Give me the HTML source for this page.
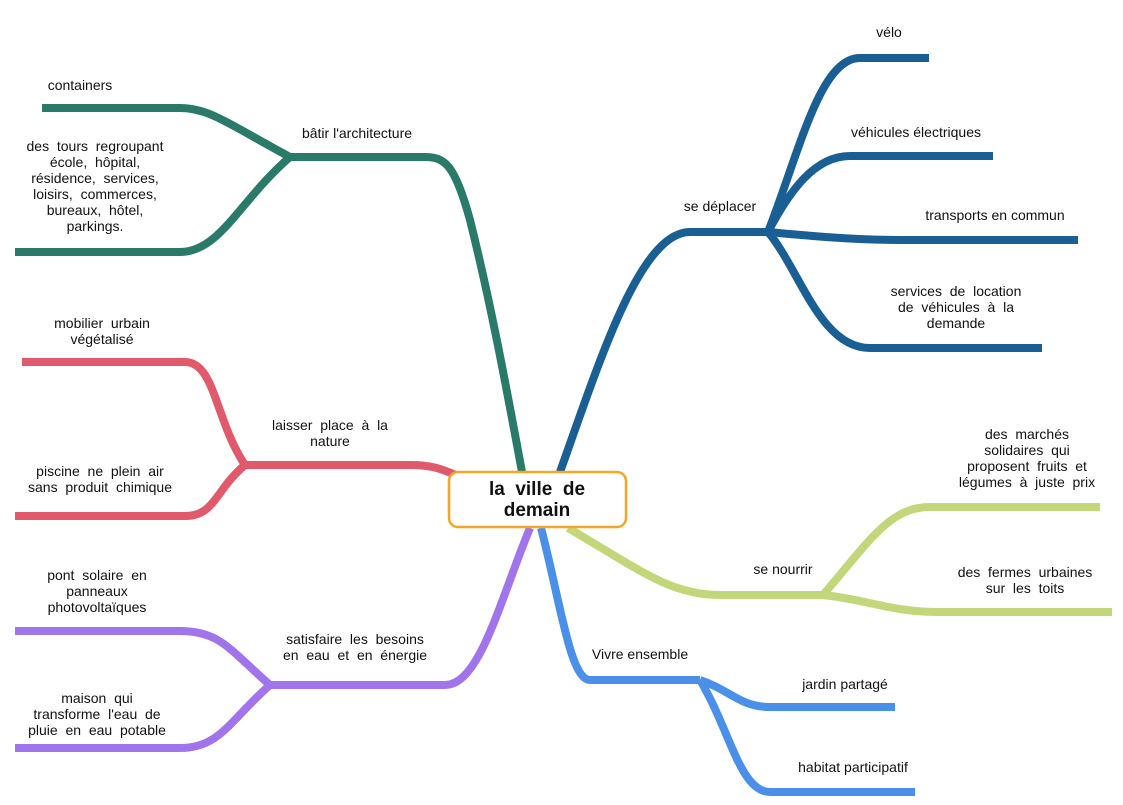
<!DOCTYPE html>
<html><head><meta charset="utf-8"><style>
html,body{margin:0;padding:0;background:#fff;}
svg{display:block;}
text{font-family:"Liberation Sans",sans-serif;font-size:14px;fill:#111;white-space:pre;}
</style></head><body>
<svg width="1123" height="805" viewBox="0 0 1123 805" xmlns="http://www.w3.org/2000/svg" xml:space="preserve">
<g fill="none" stroke-linecap="butt">
<g stroke="#2a7a69" stroke-width="8">
<path d="M522,472 C505,380 490,300 470,220 C455,165 445,157 425,157 L290,157"/>
<path d="M290,157 C230,125 210,108 180,108 L42,108"/>
<path d="M290,157 C240,200 220,252 180,252 L15,252"/>
</g>
<g stroke="#1a5f93" stroke-width="8">
<path d="M560,472 C600,360 640,232 690,232 L768,232"/>
<path d="M768,232 C800,150 820,58 860,58 L929,58"/>
<path d="M768,232 C790,190 815,156 850,156 L993,156"/>
<path d="M768,232 C800,235 850,240 900,240 L1078,240"/>
<path d="M768,232 C800,270 820,348 870,348 L1042,348"/>
</g>
<g stroke="#e05a6b" stroke-width="8">
<path d="M458,476 C440,468 430,465 410,465 L245,465"/>
<path d="M245,465 C215,420 215,362 185,362 L22,362"/>
<path d="M245,465 C215,490 215,516 185,516 L15,516"/>
</g>
<g stroke="#a274ec" stroke-width="8">
<path d="M530,528 C500,600 480,685 445,685 L270,685"/>
<path d="M270,685 C230,650 220,631 180,631 L15,631"/>
<path d="M270,685 C230,720 220,748 180,748 L15,748"/>
</g>
<g stroke="#4a90e8" stroke-width="8">
<path d="M541,528 C560,600 570,680 590,680 L700,680"/>
<path d="M700,680 C730,690 740,707 770,707 L895,707"/>
<path d="M700,680 C730,730 740,792 770,792 L915,792"/>
</g>
<g stroke="#c2d67a" stroke-width="8">
<path d="M568,528 C640,570 670,595 720,595 L823,595"/>
<path d="M823,595 C870,540 890,507 930,507 L1100,507"/>
<path d="M823,595 C870,600 890,612 940,612 L1112,612"/>
</g>
</g>
<rect x="449" y="472" width="177" height="55" rx="9" fill="#fff" stroke="#f5a623" stroke-width="2.5"/>
<text x="537" y="495" text-anchor="middle" style="font-size:19px;font-weight:bold">la  ville  de</text>
<text x="537" y="516" text-anchor="middle" style="font-size:19px;font-weight:bold">demain</text>

<text x="80" y="90" text-anchor="middle">containers</text>
<text x="357" y="138" text-anchor="middle">bâtir l'architecture</text>
<g text-anchor="middle">
<text x="95" y="151">des  tours  regroupant</text>
<text x="95" y="167">école,  hôpital,</text>
<text x="95" y="183">résidence,  services,</text>
<text x="95" y="199">loisirs,  commerces,</text>
<text x="95" y="215">bureaux,  hôtel,</text>
<text x="95" y="231">parkings.</text>
<text x="102" y="328">mobilier  urbain</text>
<text x="102" y="344">végétalisé</text>
<text x="330" y="430">laisser  place  à  la</text>
<text x="330" y="446">nature</text>
<text x="100" y="476">piscine  ne  plein  air</text>
<text x="100" y="492">sans  produit  chimique</text>
<text x="97" y="580">pont  solaire  en</text>
<text x="97" y="596">panneaux</text>
<text x="97" y="612">photovoltaïques</text>
<text x="355" y="644">satisfaire  les  besoins</text>
<text x="355" y="660">en  eau  et  en  énergie</text>
<text x="97" y="703">maison  qui</text>
<text x="97" y="719">transforme  l'eau  de</text>
<text x="97" y="735">pluie  en  eau  potable</text>
<text x="889" y="37">vélo</text>
<text x="916" y="137">véhicules électriques</text>
<text x="720" y="211">se déplacer</text>
<text x="995" y="220">transports en commun</text>
<text x="956" y="296">services  de  location</text>
<text x="956" y="312">de  véhicules  à  la</text>
<text x="956" y="328">demande</text>
<text x="1027" y="439">des  marchés</text>
<text x="1027" y="455">solidaires  qui</text>
<text x="1027" y="471">proposent  fruits  et</text>
<text x="1027" y="487">légumes  à  juste  prix</text>
<text x="783" y="574">se nourrir</text>
<text x="1025" y="577">des  fermes  urbaines</text>
<text x="1025" y="593">sur  les  toits</text>
<text x="640" y="659">Vivre ensemble</text>
<text x="845" y="689">jardin partagé</text>
<text x="853" y="772">habitat participatif</text>
</g>
</svg>
</body></html>
